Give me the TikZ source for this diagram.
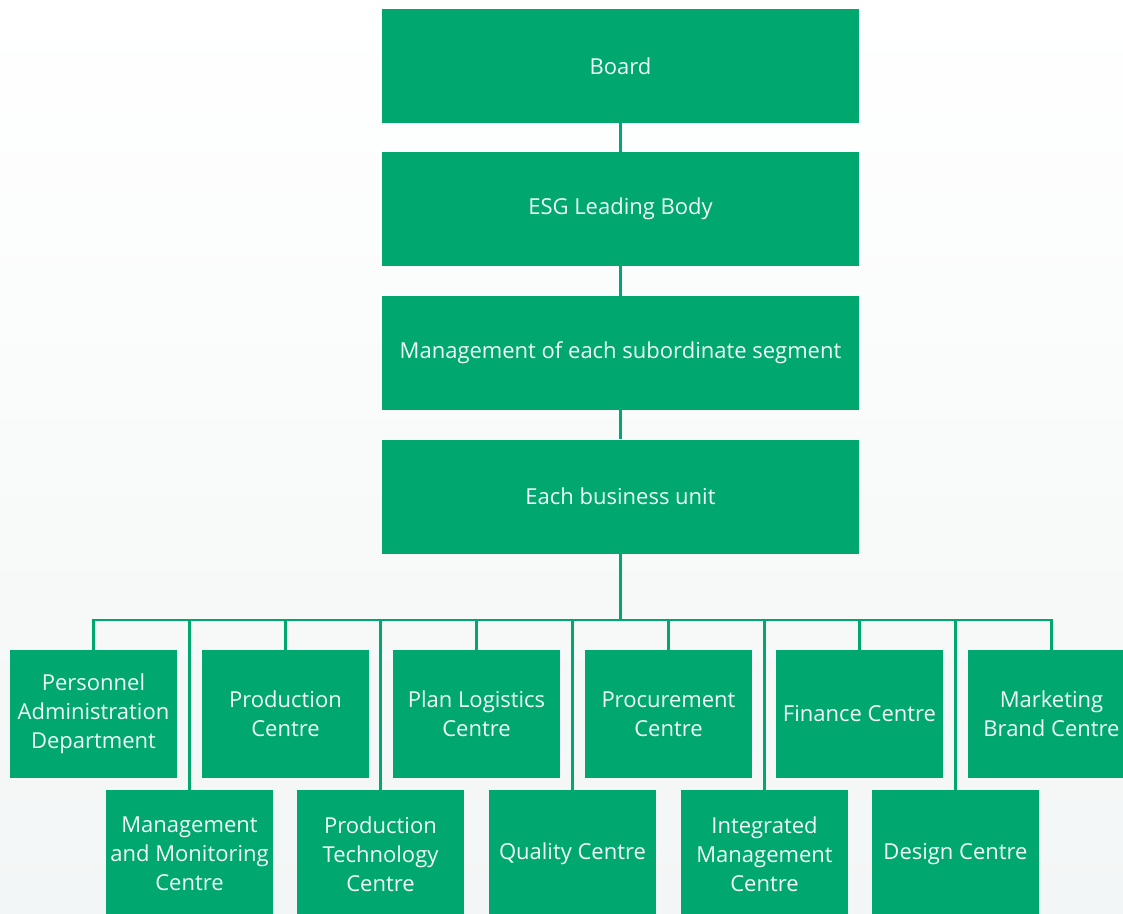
\documentclass[tikz,border=0pt]{standalone}
\usepackage{fontspec}
\setmainfont{Open Sans}
\definecolor{esggreen}{HTML}{00A86F}
\definecolor{bglow}{HTML}{F3F6F6}
\begin{document}
\begin{tikzpicture}[x=1pt,y=-1pt,
  box/.style={fill=esggreen, text=white!94!esggreen, align=center, inner sep=0pt,
    font=\fontsize{22}{29}\selectfont},
  topbox/.style={box, minimum width=477pt, minimum height=114pt},
  unitbox/.style={box, minimum width=167pt, minimum height=128pt},
  conn/.style={draw=esggreen, line width=2.4pt}]
\useasboundingbox (0,0) rectangle (1123,913);
\clip (0,0) rectangle (1123,913);
\shade[top color=white, bottom color=bglow] (0,0) rectangle (1123,913);
% top chain
\node[topbox] (board) at (620.5,66) {Board};
\node[topbox] (esg) at (620.5,209) {ESG Leading Body};
\node[topbox] (mgmt) at (620.5,353) {Management of each subordinate segment};
\node[topbox] (unit) at (620.5,496.5) {Each business unit};
% upper row of units
\node[unitbox] (pad) at (93.5,714) {Personnel\\Administration\\Department};
\node[unitbox] (prod) at (285.5,714) {Production\\Centre};
\node[unitbox] (plan) at (476.5,714) {Plan Logistics\\Centre};
\node[unitbox] (proc) at (668.5,714) {Procurement\\Centre};
\node[unitbox] (fin) at (859.5,714) {Finance Centre};
\node[unitbox] (mkt) at (1051.5,714) {Marketing\\Brand Centre};
% lower row of units
\node[unitbox] (mmc) at (189.5,854) {Management\\and Monitoring\\Centre};
\node[unitbox] (ptc) at (380.5,854) {Production\\Technology\\Centre};
\node[unitbox] (qc) at (572.5,854) {Quality Centre};
\node[unitbox] (imc) at (764.5,854) {Integrated\\Management\\Centre};
\node[unitbox] (dc) at (955.5,854) {Design Centre};
% connectors
\coordinate (bar) at (620.5,620);
\draw[conn] (board.south) -- (esg.north);
\draw[conn] (esg.south) -- (mgmt.north);
\draw[conn] (mgmt.south) -- (unit.north);
\draw[conn] (unit.south) -- (bar);
\draw[conn] (pad.north) -- (pad.north |- bar) -- (mkt.north |- bar) -- (mkt.north);
\foreach \n in {prod,plan,proc,fin,mmc,ptc,qc,imc,dc}
  \draw[conn] (\n.north) -- (\n.north |- bar);
\end{tikzpicture}
\end{document}
